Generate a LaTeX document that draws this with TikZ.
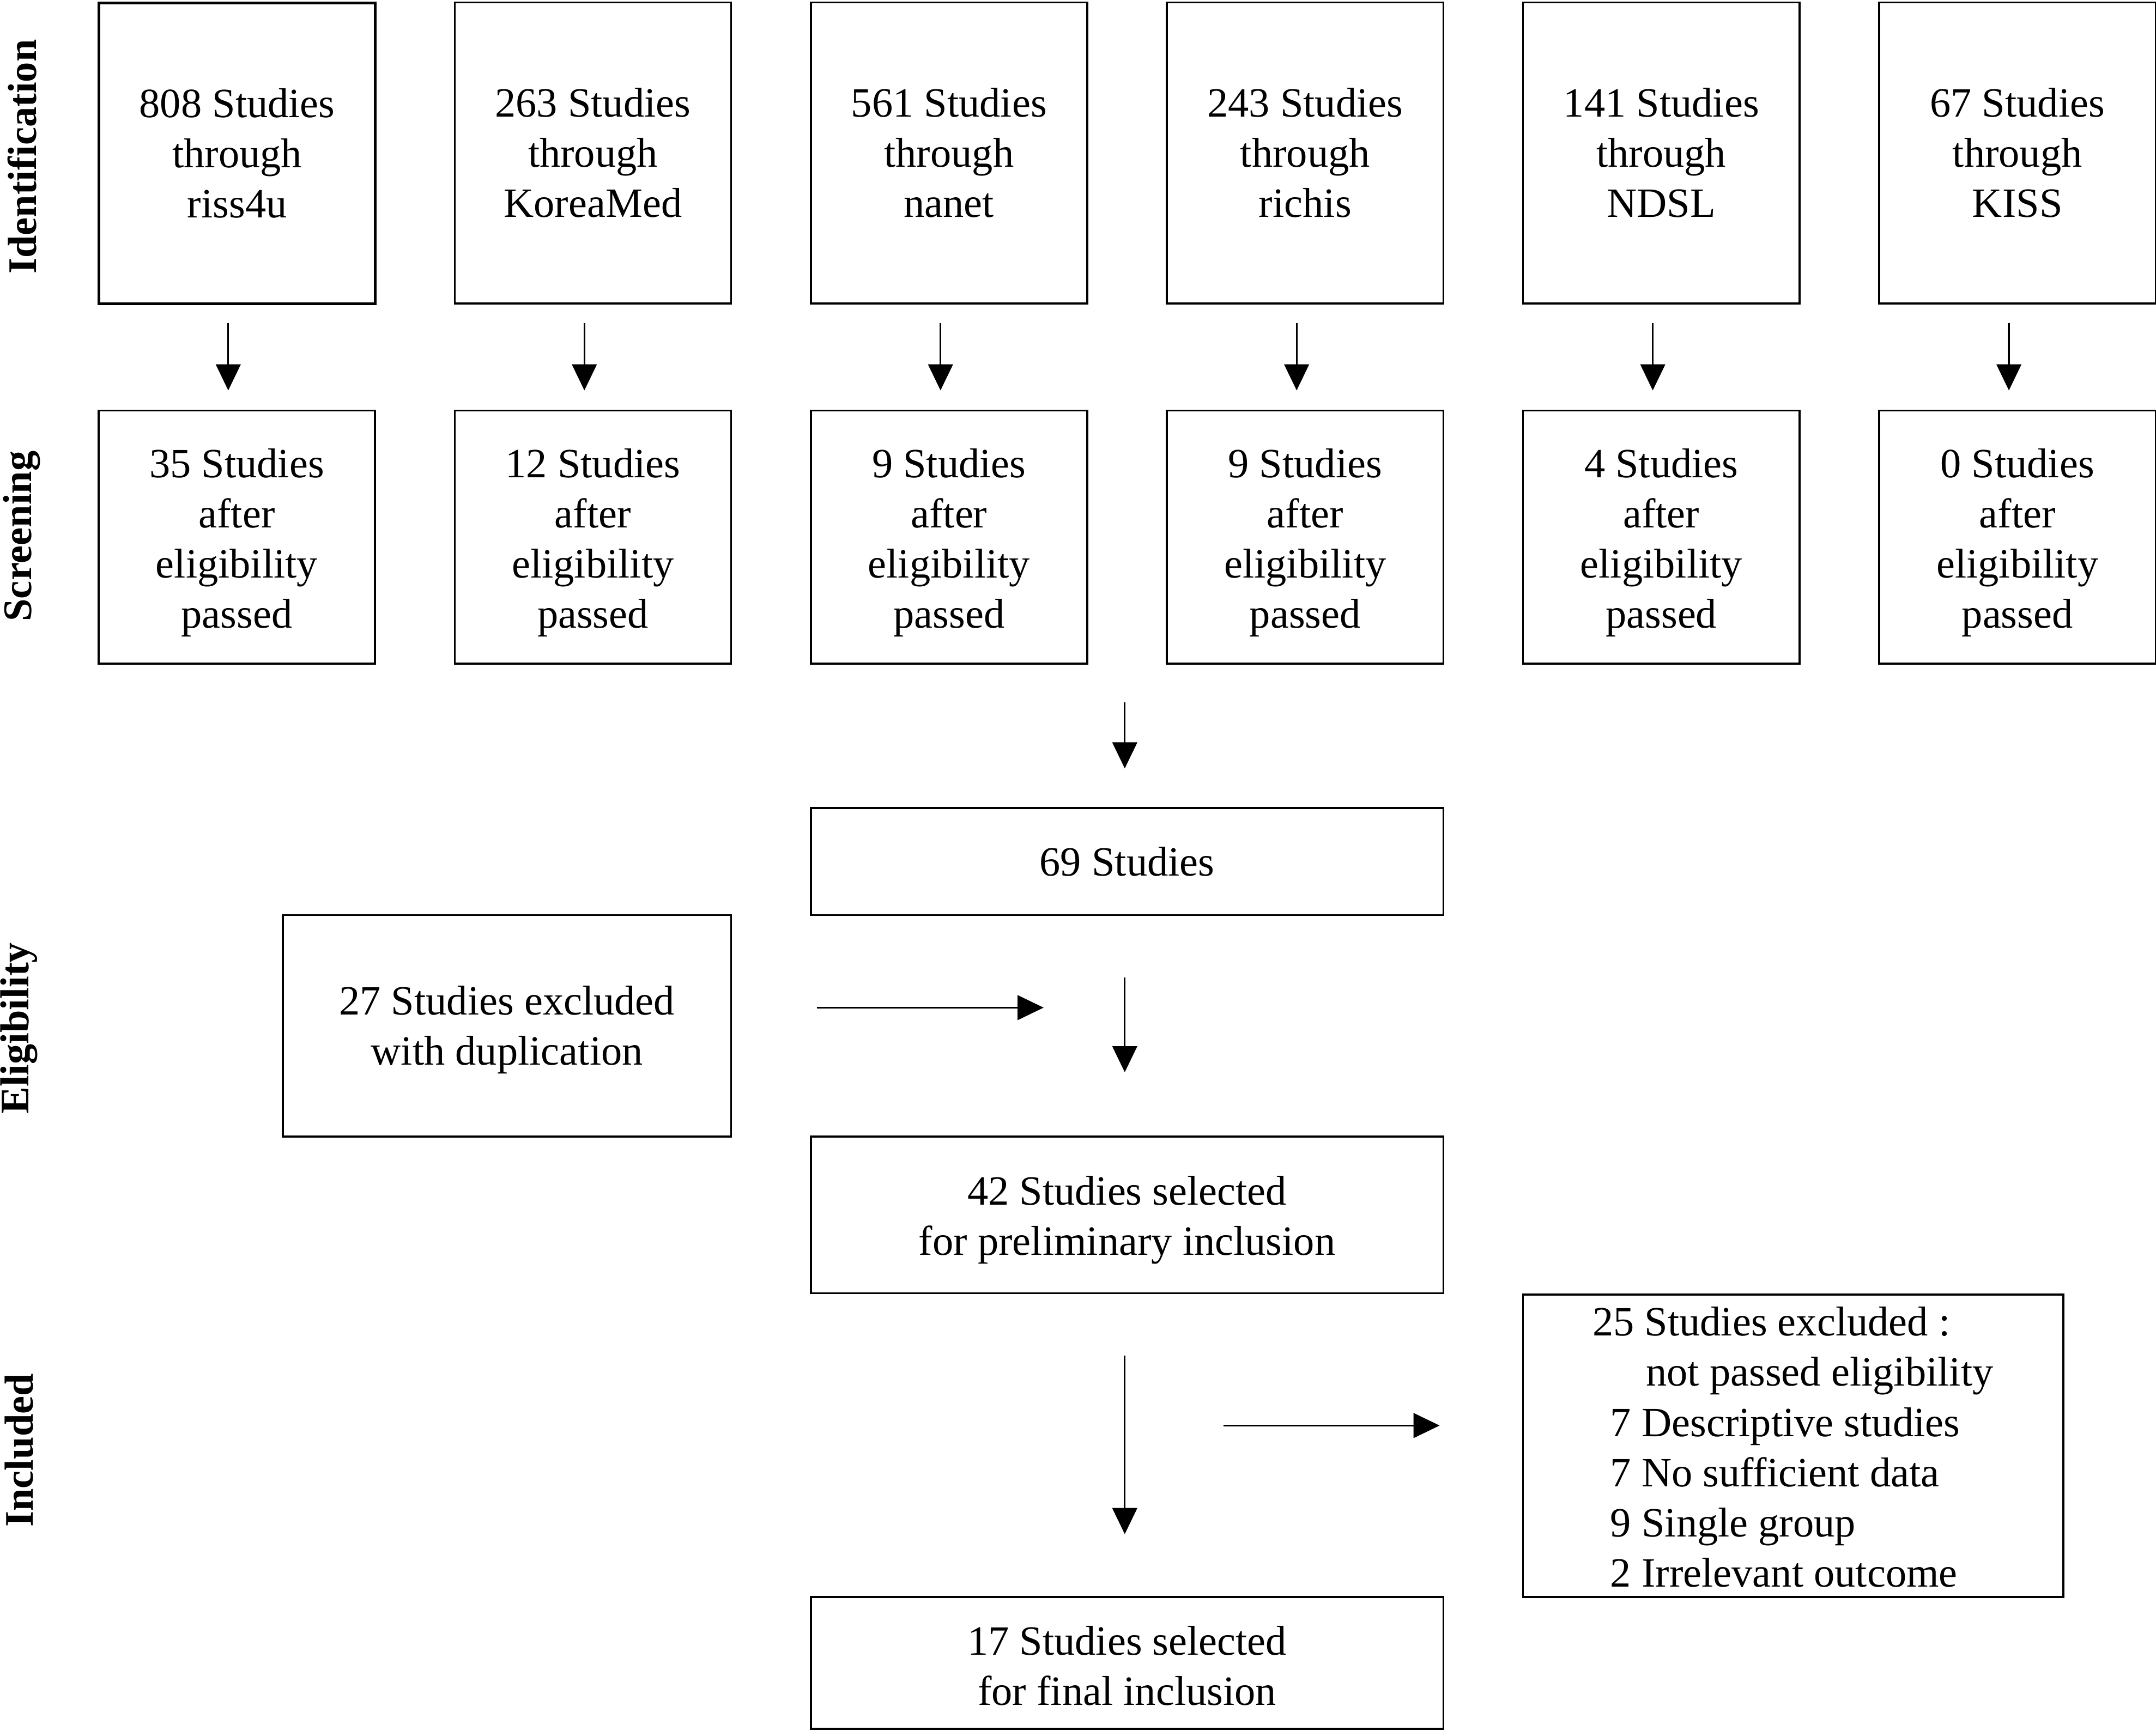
\documentclass[tikz,border=0pt]{standalone}
\usepackage{fontspec}
\setmainfont{Liberation Serif}
\usetikzlibrary{arrows.meta}
\begin{document}
\begin{tikzpicture}[x=1pt,y=-1pt,
  box/.style={draw, line width=1.4pt, inner sep=0pt, anchor=north west},
  txt/.style={inner sep=0pt, align=center, font=\fontsize{30.3}{36.5}\selectfont},
  arr/.style={-{Triangle[length=19pt,width=18pt]}, line width=1.3pt},
  lab/.style={rotate=90, inner sep=0pt, font=\fontsize{29.5}{34}\selectfont\bfseries}]
\useasboundingbox (0,0) rectangle (1568,1259);
% phase labels
\node[lab] (lid) at (16,114) {Identification};
\node[lab] (lsc) at (16,390) {Screening};
\node[lab] (lel) at (14,748) {Eligibility};
\node[lab] (lin) at (14,1055) {Included};
% identification row
\node[box, line width=2pt, minimum width=201pt, minimum height=219pt, label={[txt]center:{808 Studies\\through\\riss4u}}] (id1) at (71,1) {};
\node[box, minimum width=201pt, minimum height=219pt, label={[txt]center:{263 Studies\\through\\KoreaMed}}] (id2) at (330,1) {};
\node[box, minimum width=201pt, minimum height=219pt, label={[txt]center:{561 Studies\\through\\nanet}}] (id3) at (589,1) {};
\node[box, minimum width=201pt, minimum height=219pt, label={[txt]center:{243 Studies\\through\\richis}}] (id4) at (848,1) {};
\node[box, minimum width=201pt, minimum height=219pt, label={[txt]center:{141 Studies\\through\\NDSL}}] (id5) at (1107,1) {};
\node[box, minimum width=201pt, minimum height=219pt, label={[txt]center:{67 Studies\\through\\KISS}}] (id6) at (1366,1) {};
% screening row
\node[box, minimum width=201pt, minimum height=184pt, label={[txt, yshift=-4pt]center:{35 Studies\\after\\eligibility\\passed}}] (sc1) at (71,298) {};
\node[box, minimum width=201pt, minimum height=184pt, label={[txt, yshift=-4pt]center:{12 Studies\\after\\eligibility\\passed}}] (sc2) at (330,298) {};
\node[box, minimum width=201pt, minimum height=184pt, label={[txt, yshift=-4pt]center:{9 Studies\\after\\eligibility\\passed}}] (sc3) at (589,298) {};
\node[box, minimum width=201pt, minimum height=184pt, label={[txt, yshift=-4pt]center:{9 Studies\\after\\eligibility\\passed}}] (sc4) at (848,298) {};
\node[box, minimum width=201pt, minimum height=184pt, label={[txt, yshift=-4pt]center:{4 Studies\\after\\eligibility\\passed}}] (sc5) at (1107,298) {};
\node[box, minimum width=201pt, minimum height=184pt, label={[txt, yshift=-4pt]center:{0 Studies\\after\\eligibility\\passed}}] (sc6) at (1366,298) {};
% lower boxes
\node[box, minimum width=460pt, minimum height=78pt, label={[txt]center:{69 Studies}}] (n69) at (589,587) {};
\node[box, minimum width=326pt, minimum height=161pt, label={[txt, yshift=-3pt]center:{27 Studies excluded\\with duplication}}] (dup) at (205,665) {};
\node[box, minimum width=460pt, minimum height=114pt, label={[txt, yshift=-4pt]center:{42 Studies selected\\for preliminary inclusion}}] (pre) at (589,826) {};
\node[box, minimum width=393pt, minimum height=220pt,
  label={[txt, align=left, anchor=west, xshift=51pt, yshift=-1pt]west:{25 Studies excluded :\\\hspace*{39pt}not passed eligibility\\\hspace*{13pt}7 Descriptive studies\\\hspace*{13pt}7 No sufficient data\\\hspace*{13pt}9 Single group\\\hspace*{13pt}2 Irrelevant outcome}}] (exc) at (1107,941) {};
\node[box, minimum width=460pt, minimum height=96pt, label={[txt, yshift=-2pt]center:{17 Studies selected\\for final inclusion}}] (fin) at (589,1161) {};
% arrow end points
\foreach \i/\x in {1/166,2/425,3/684,4/943,5/1202,6/1461}{
  \coordinate (a\i s) at (\x,235);
  \coordinate (a\i e) at (\x,284);
  \draw[arr] (a\i s) -- (a\i e);
}
\coordinate (m1s) at (818,511); \coordinate (m1e) at (818,559);
\coordinate (h1s) at (594,733); \coordinate (h1e) at (759,733);
\coordinate (m2s) at (818,711); \coordinate (m2e) at (818,780);
\coordinate (m3s) at (818,986); \coordinate (m3e) at (818,1116);
\coordinate (h2s) at (890,1037); \coordinate (h2e) at (1047,1037);
\draw[arr] (m1s) -- (m1e);
\draw[arr] (h1s) -- (h1e);
\draw[arr] (m2s) -- (m2e);
\draw[arr] (m3s) -- (m3e);
\draw[arr] (h2s) -- (h2e);
\end{tikzpicture}
\end{document}
